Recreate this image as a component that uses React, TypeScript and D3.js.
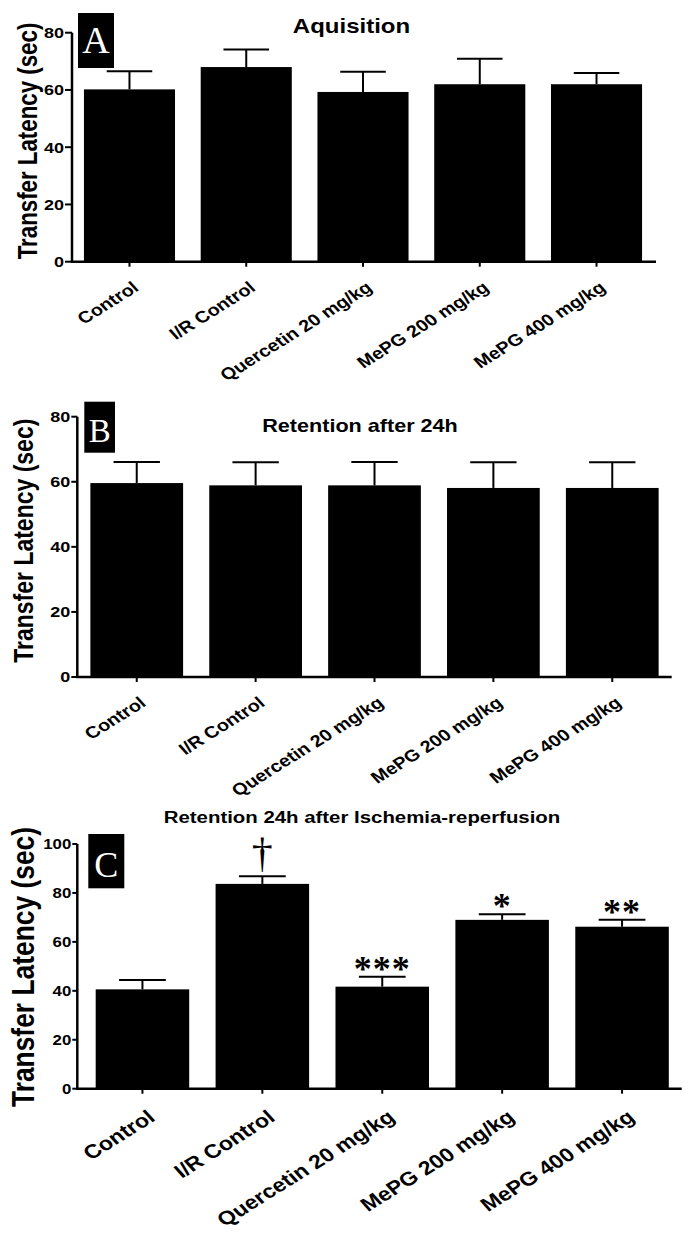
import React from "react";
import * as d3 from "d3";

// ---------- data ----------
const categories = ["Control", "I/R Control", "Quercetin 20 mg/kg", "MePG 200 mg/kg", "MePG 400 mg/kg"];

const acquisitionMean = [60.2, 68.0, 59.3, 62.0, 62.0];
const acquisitionSem = [6.3, 6.1, 7.1, 8.9, 3.9];

const retentionMean = [59.6, 58.9, 58.9, 58.1, 58.1];
const retentionSem = [6.5, 7.1, 7.2, 7.9, 7.9];

const ischemiaMean = [40.6, 83.7, 41.7, 69.0, 66.2];
const ischemiaSem = [3.8, 3.1, 4.1, 2.3, 2.8];
const ischemiaMarks = ["", "†", "***", "*", "**"];

const ticksAB = [0, 20, 40, 60, 80];
const ticksC = [0, 20, 40, 60, 80, 100];

const titleA = "Aquisition";
const titleB = "Retention after 24h";
const titleC = "Retention 24h after Ischemia-reperfusion";
const yLabel = "Transfer Latency (sec)";

// ---------- layout ----------
const SX = 1.2; // horizontal stretch of the source image text
const SANS = "'Liberation Sans', Arial, sans-serif";
const SERIF = "'Liberation Serif', 'Times New Roman', serif";

type PanelCfg = {
  letter: string;
  title: string;
  means: number[];
  sems: number[];
  marks?: string[];
  ticks: number[];
  yMax: number;
  y0: number;
  yTop: number;
  axisX: number;
  axisEnd: number;
  bx0: number;
  bx1: number;
  titleX: number;
  titleY: number;
  titleSize: number;
  box: { x: number; y: number; w: number; h: number; size: number; base: number };
  yLab: { x: number; cy: number; size: number };
  tickSize: number;
  tickLen: number;
  xLab: { size: number; dx: number; dy: number };
};

const panels: PanelCfg[] = [
  {
    letter: "A",
    title: titleA,
    means: acquisitionMean,
    sems: acquisitionSem,
    ticks: ticksAB,
    yMax: 80,
    y0: 261.7,
    yTop: 32.7,
    axisX: 72,
    axisEnd: 656,
    bx0: 71.1,
    bx1: 654.9,
    titleX: 351.5,
    titleY: 33.3,
    titleSize: 20,
    box: { x: 78, y: 13, w: 36, h: 55, size: 38, base: 53.3 },
    yLab: { x: 37, cy: 141, size: 22.3 },
    tickSize: 15,
    tickLen: 7,
    xLab: { size: 16.5, dx: 10.5, dy: 28 },
  },
  {
    letter: "B",
    title: titleB,
    means: retentionMean,
    sems: retentionSem,
    ticks: ticksAB,
    yMax: 80,
    y0: 677,
    yTop: 416.7,
    axisX: 77.3,
    axisEnd: 671.7,
    bx0: 77.3,
    bx1: 671.7,
    titleX: 360,
    titleY: 432.3,
    titleSize: 18,
    box: { x: 84.3, y: 401.7, w: 30.7, h: 51, size: 33, base: 441.7 },
    yLab: { x: 33, cy: 540.7, size: 23 },
    tickSize: 15,
    tickLen: 6,
    xLab: { size: 16.5, dx: 10.5, dy: 28 },
  },
  {
    letter: "C",
    title: titleC,
    means: ischemiaMean,
    sems: ischemiaSem,
    marks: ischemiaMarks,
    ticks: ticksC,
    yMax: 100,
    y0: 1088.7,
    yTop: 844,
    axisX: 77.3,
    axisEnd: 681.7,
    bx0: 82.5,
    bx1: 682,
    titleX: 362,
    titleY: 823.3,
    titleSize: 17,
    box: { x: 88.3, y: 834, w: 36, h: 54.3, size: 36, base: 877.3 },
    yLab: { x: 34.4, cy: 967, size: 26.4 },
    tickSize: 14,
    tickLen: 5,
    xLab: { size: 19.3, dx: 14, dy: 31 },
  },
];

function Panel({ cfg }: { cfg: PanelCfg }) {
  const x = d3
    .scaleBand<string>()
    .domain(categories)
    .range([cfg.bx0, cfg.bx1])
    .paddingInner(0.22)
    .paddingOuter(0.11);
  const y = d3.scaleLinear().domain([0, cfg.yMax]).range([cfg.y0, cfg.yTop]);
  const bw = x.bandwidth();

  return (
    <g>
      {/* bars */}
      {categories.map((c, i) => (
        <rect
          key={"bar" + i}
          x={x(c)}
          y={y(cfg.means[i])}
          width={bw}
          height={cfg.y0 - y(cfg.means[i])}
          fill="#000"
        />
      ))}
      {/* error bars */}
      {categories.map((c, i) => {
        const cx = (x(c) as number) + bw / 2;
        const top = y(cfg.means[i] + cfg.sems[i]);
        return (
          <g key={"err" + i} stroke="#000" strokeWidth={2}>
            <line x1={cx} x2={cx} y1={y(cfg.means[i])} y2={top} />
            <line x1={cx - bw / 4} x2={cx + bw / 4} y1={top} y2={top} />
          </g>
        );
      })}
      {/* significance marks */}
      {cfg.marks &&
        categories.map((c, i) => {
          const m = cfg.marks![i];
          if (!m) return null;
          const cx = (x(c) as number) + bw / 2;
          const top = y(cfg.means[i] + cfg.sems[i]);
          if (m === "†") {
            return (
              <text
                key={"mk" + i}
                x={cx}
                y={top - 9}
                textAnchor="middle"
                fontFamily={SERIF}
                fontSize={42}
                fill="#000"
              >
                {m}
              </text>
            );
          }
          return (
            <text
              key={"mk" + i}
              x={cx}
              y={top + 4}
              textAnchor="middle"
              fontFamily={SERIF}
              fontWeight="bold"
              fontSize={36}
              letterSpacing={1}
              fill="#000"
            >
              {m}
            </text>
          );
        })}
      {/* axes */}
      <line
        x1={cfg.axisX}
        x2={cfg.axisX}
        y1={cfg.yTop}
        y2={cfg.y0}
        stroke="#000"
        strokeWidth={2.5}
      />
      <line
        x1={cfg.axisX - 1.25}
        x2={cfg.axisEnd}
        y1={cfg.y0}
        y2={cfg.y0}
        stroke="#000"
        strokeWidth={2.5}
      />
      {/* y ticks */}
      {cfg.ticks.map((t) => (
        <g key={"yt" + t}>
          <line
            x1={cfg.axisX - cfg.tickLen}
            x2={cfg.axisX}
            y1={y(t)}
            y2={y(t)}
            stroke="#000"
            strokeWidth={2}
          />
          <text
            transform={`translate(${cfg.axisX - cfg.tickLen - 1},${y(t)}) scale(${SX},1)`}
            textAnchor="end"
            dy="0.36em"
            fontFamily={SANS}
            fontWeight="bold"
            fontSize={cfg.tickSize}
            fill="#000"
          >
            {t}
          </text>
        </g>
      ))}
      {/* x ticks and labels */}
      {categories.map((c, i) => {
        const cx = (x(c) as number) + bw / 2;
        return (
          <g key={"xt" + i}>
            <line x1={cx} x2={cx} y1={cfg.y0} y2={cfg.y0 + 5} stroke="#000" strokeWidth={2} />
            <text
              transform={`translate(${cx + cfg.xLab.dx},${cfg.y0 + cfg.xLab.dy}) scale(${SX},1) rotate(-36.9)`}
              textAnchor="end"
              fontFamily={SANS}
              fontWeight="bold"
              fontSize={cfg.xLab.size}
              fill="#000"
            >
              {c}
            </text>
          </g>
        );
      })}
      {/* y axis title */}
      <text
        transform={`translate(${cfg.yLab.x},${cfg.yLab.cy}) scale(${SX},1) rotate(-90)`}
        textAnchor="middle"
        fontFamily={SANS}
        fontWeight="bold"
        fontSize={cfg.yLab.size}
        fill="#000"
      >
        {yLabel}
      </text>
      {/* title */}
      <text
        transform={`translate(${cfg.titleX},${cfg.titleY}) scale(${SX},1)`}
        textAnchor="middle"
        fontFamily={SANS}
        fontWeight="bold"
        fontSize={cfg.titleSize}
        fill="#000"
      >
        {cfg.title}
      </text>
      {/* panel letter */}
      <rect x={cfg.box.x} y={cfg.box.y} width={cfg.box.w} height={cfg.box.h} fill="#000" />
      <text
        x={cfg.box.x + cfg.box.w / 2}
        y={cfg.box.base}
        textAnchor="middle"
        fontFamily={SERIF}
        fontSize={cfg.box.size}
        fill="#fff"
      >
        {cfg.letter}
      </text>
    </g>
  );
}

export default function App() {
  return (
    <svg
      width={688}
      height={1254}
      viewBox="0 0 688 1254"
      style={{ position: "absolute", left: 0, top: 0, background: "#fff" }}
    >
      <rect x={0} y={0} width={688} height={1254} fill="#fff" />
      {panels.map((p) => (
        <Panel key={p.letter} cfg={p} />
      ))}
    </svg>
  );
}
